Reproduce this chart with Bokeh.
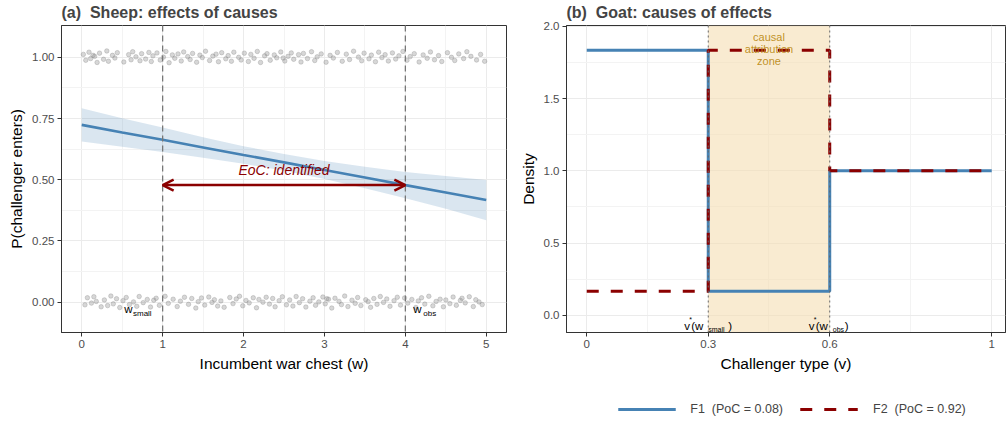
from bokeh.plotting import figure
from bokeh.models import Range1d, FixedTicker, Span, BoxAnnotation, Arrow, OpenHead, Legend, LegendItem, Spacer
from bokeh.layouts import row, column
from bokeh.embed import file_html
from bokeh.resources import INLINE
from bokeh.core.properties import value

FONT = "Liberation Sans"

# ---------------- data: panel (a) ----------------
top_x = [0.02, 0.05, 0.09, 0.11, 0.16, 0.19, 0.22, 0.27, 0.31, 0.33,
         0.38, 0.41, 0.44, 0.52, 0.58, 0.61, 0.63, 0.67, 0.72, 0.74,
         0.79, 0.83, 0.86, 0.88, 0.93, 0.97, 1.01, 1.04, 1.08, 1.12,
         1.15, 1.19, 1.23, 1.26, 1.31, 1.34, 1.37, 1.42, 1.46, 1.49,
         1.53, 1.58, 1.62, 1.66, 1.69, 1.73, 1.78, 1.81, 1.85, 1.88,
         1.94, 1.97, 2.01, 2.06, 2.09, 2.13, 2.17, 2.21, 2.26, 2.29,
         2.33, 2.38, 2.41, 2.46, 2.51, 2.55, 2.59, 2.62, 2.68, 2.71,
         2.74, 2.79, 2.84, 2.88, 2.91, 2.96, 3.02, 3.07, 3.11, 3.16,
         3.22, 3.27, 3.31, 3.36, 3.42, 3.46, 3.49, 3.55, 3.58, 3.63,
         3.67, 3.71, 3.75, 3.79, 3.84, 3.88, 3.92, 3.97, 4.02, 4.06,
         4.11, 4.17, 4.22, 4.27, 4.31, 4.36, 4.41, 4.45, 4.52, 4.57,
         4.61, 4.66, 4.72, 4.76, 4.81, 4.88, 4.93, 4.98, 0.14, 2.49]
top_y = [1.012, 0.988, 1.021, 0.995, 1.004, 0.979, 1.017, 0.992, 1.026, 0.984,
         1.008, 0.997, 1.019, 0.981, 1.011, 0.990, 1.023, 1.002, 0.986, 1.015,
         0.993, 1.020, 0.983, 1.006, 1.018, 0.989, 1.001, 1.024, 0.978, 1.010,
         0.996, 1.014, 0.985, 1.022, 1.003, 0.991, 1.016, 0.980, 1.009, 0.999,
         1.025, 0.987, 1.005, 1.013, 0.982, 1.019, 0.994, 1.007, 0.984, 1.021,
         1.000, 0.989, 1.017, 0.983, 1.012, 0.996, 1.024, 0.979, 1.006, 1.015,
         0.988, 1.010, 0.998, 1.022, 0.985, 1.004, 1.018, 0.992, 1.011, 0.981,
         1.016, 0.995, 1.023, 0.987, 1.002, 1.014, 0.980, 1.008, 0.997, 1.020,
         0.984, 1.013, 0.991, 1.025, 1.001, 0.986, 1.017, 0.994, 1.009, 0.982,
         1.021, 0.999, 1.011, 0.985, 1.018, 0.993, 1.006, 1.024, 0.988, 1.003,
         1.015, 0.981, 1.010, 0.996, 1.022, 0.990, 1.007, 0.983, 1.019, 1.000,
         0.987, 1.014, 0.995, 1.023, 1.004, 0.989, 1.012, 0.984, 1.008, 0.997]
bot_x = [0.04, 0.07, 0.12, 0.15, 0.18, 0.24, 0.28, 0.32, 0.36, 0.39,
         0.43, 0.47, 0.51, 0.55, 0.59, 0.64, 0.68, 0.71, 0.76, 0.81,
         0.85, 0.89, 0.92, 0.96, 1.03, 1.07, 1.13, 1.18, 1.22, 1.27,
         1.32, 1.36, 1.41, 1.44, 1.48, 1.52, 1.57, 1.61, 1.64, 1.68,
         1.72, 1.76, 1.83, 1.87, 1.91, 1.95, 1.99, 2.03, 2.07, 2.12,
         2.16, 2.19, 2.24, 2.28, 2.32, 2.36, 2.39, 2.44, 2.48, 2.53,
         2.57, 2.61, 2.65, 2.69, 2.73, 2.77, 2.82, 2.86, 2.89, 2.93,
         2.98, 3.01, 3.05, 3.09, 3.13, 3.18, 3.21, 3.25, 3.29, 3.34,
         3.38, 3.41, 3.45, 3.51, 3.54, 3.57, 3.61, 3.65, 3.69, 3.73,
         3.77, 3.81, 3.86, 3.90, 3.94, 3.99, 4.03, 4.08, 4.13, 4.16,
         4.20, 4.24, 4.29, 4.34, 4.38, 4.43, 4.47, 4.50, 4.55, 4.59,
         4.63, 4.68, 4.70, 4.74, 4.79, 4.84, 4.87, 4.91, 4.95, 3.03]
bot_y = [-0.011, 0.018, -0.004, 0.022, 0.003, -0.019, 0.009, -0.014, 0.025, -0.007,
         0.014, -0.022, 0.006, 0.019, -0.010, 0.001, -0.017, 0.023, -0.002, 0.011,
         -0.020, 0.008, 0.016, -0.013, 0.024, -0.005, 0.012, -0.018, 0.004, 0.020,
         -0.009, 0.015, -0.024, 0.002, 0.017, -0.012, 0.021, -0.001, 0.010, -0.016,
         0.005, -0.021, 0.019, -0.006, 0.013, 0.024, -0.015, 0.007, -0.003, 0.018,
         -0.023, 0.011, 0.000, 0.020, -0.008, 0.015, -0.019, 0.006, 0.022, -0.011,
         0.009, -0.016, 0.023, -0.002, 0.014, -0.020, 0.004, 0.018, -0.013, 0.001,
         0.021, -0.007, 0.012, -0.024, 0.016, 0.003, -0.010, 0.025, -0.018, 0.008,
         -0.005, 0.019, -0.014, 0.010, 0.002, -0.021, 0.015, -0.009, 0.023, -0.001,
         0.013, -0.017, 0.006, 0.020, -0.012, 0.017, -0.004, 0.011, -0.022, 0.005,
         0.018, -0.008, 0.024, -0.015, 0.003, 0.012, -0.019, 0.009, -0.006, 0.021,
         -0.013, 0.007, 0.016, -0.003, 0.022, -0.018, 0.010, 0.001, -0.010, 0.014]

fit_x = [0.0, 0.5, 1.0, 1.5, 2.0, 2.5, 3.0, 3.5, 4.0, 4.5, 5.0]
fit_y = [0.724, 0.693, 0.663, 0.632, 0.601, 0.571, 0.540, 0.509, 0.478, 0.448, 0.417]
fit_lo = [0.656, 0.635, 0.613, 0.590, 0.565, 0.537, 0.503, 0.465, 0.424, 0.381, 0.335]
fit_hi = [0.792, 0.751, 0.713, 0.674, 0.637, 0.605, 0.577, 0.553, 0.532, 0.515, 0.499]

w_small = 1.0
w_obs = 4.0
eoc_level = 0.478  # predicted P at w_obs

a_xticks = [0, 1, 2, 3, 4, 5]
a_xminor = [0.5, 1.5, 2.5, 3.5, 4.5]
a_yticks = [0.0, 0.25, 0.5, 0.75, 1.0]
a_ylabels = ["0.00", "0.25", "0.50", "0.75", "1.00"]
a_yminor = [0.125, 0.375, 0.625, 0.875]

# ---------------- data: panel (b) ----------------
v_breaks = [0.0, 0.3, 0.6, 1.0]
f1_density = [1.833, 0.1667, 1.0]
f2_density = [0.1667, 1.833, 1.0]
v_small = 0.3
v_obs = 0.6

b_xticks = [0, 0.3, 0.6, 1]
b_xlabels = ["0", "0.3", "0.6", "1"]
b_xminor = [0.15, 0.45, 0.8]
b_yticks = [0.0, 0.5, 1.0, 1.5, 2.0]
b_ylabels = ["0.0", "0.5", "1.0", "1.5", "2.0"]
b_yminor = [0.25, 0.75, 1.25, 1.75]

legend_labels = ["F1\u00a0 (PoC = 0.08)", "F2\u00a0 (PoC = 0.92)"]
titles = ["(a)\u00a0 Sheep: effects of causes", "(b)\u00a0 Goat: causes of effects"]

ROW_H = 396
W1 = 515
W2 = 491


def steps(breaks, dens):
    xs, ys = [], []
    for i, d in enumerate(dens):
        xs += [breaks[i], breaks[i + 1]]
        ys += [d, d]
    return xs, ys


def style(p):
    p.background_fill_color = "white"
    p.border_fill_color = "white"
    p.outline_line_color = "#333333"
    p.outline_line_width = 1
    p.title.text_font = FONT
    p.title.text_font_size = "16px"
    p.title.text_font_style = "bold"
    p.title.align = "left"
    p.title.vertical_align = "top"
    p.title.offset = 0
    p.title.standoff = 6
    for ax in p.axis:
        ax.axis_line_color = "#333333"
        ax.major_tick_line_color = "#333333"
        ax.major_tick_out = 4
        ax.major_tick_in = 0
        ax.minor_tick_line_color = None
        ax.major_label_text_font = FONT
        ax.major_label_text_font_size = "11.5px"
        ax.major_label_text_color = "#4D4D4D"
        ax.major_label_standoff = 3
        ax.axis_label_text_font = FONT
        ax.axis_label_text_font_size = "15.5px"
        ax.axis_label_text_font_style = "normal"
        ax.axis_label_text_color = "black"
        ax.axis_label_standoff = 4
    for g in (p.xgrid, p.ygrid):
        g.grid_line_color = "#EBEBEB"
        g.grid_line_width = 1
        g.minor_grid_line_color = "#F3F3F3"
        g.minor_grid_line_width = 1


# ---------------- panel (a) ----------------
p1 = figure(width=W1, height=ROW_H, x_range=Range1d(-0.25, 5.25), y_range=Range1d(-0.124, 1.13),
            output_backend="svg", toolbar_location=None,
            min_border_left=61, min_border_right=9, min_border_top=0, min_border_bottom=64,
            title=titles[0],
            x_axis_label="Incumbent war chest (w)", y_axis_label="P(challenger enters)")
p1.xaxis.ticker = FixedTicker(ticks=a_xticks, minor_ticks=a_xminor)
p1.yaxis.ticker = FixedTicker(ticks=a_yticks, minor_ticks=a_yminor)
p1.yaxis.major_label_overrides = {t: l for t, l in zip(a_yticks, a_ylabels)}
style(p1)

p1.scatter(top_x, top_y, size=4.5, color="#8C8C8C", alpha=0.35)
p1.scatter(bot_x, bot_y, size=4.5, color="#8C8C8C", alpha=0.35)
p1.varea(x=fit_x, y1=fit_lo, y2=fit_hi, fill_color="#4682B4", fill_alpha=0.2)
p1.line(fit_x, fit_y, line_color="#4682B4", line_width=2.6)
for loc in (w_small, w_obs):
    p1.add_layout(Span(location=loc, dimension="height", line_color="#777777",
                       line_width=1.3, line_dash="6 4"))
p1.add_layout(Arrow(x_start=w_small, y_start=eoc_level, x_end=w_obs, y_end=eoc_level,
                    line_color="#8B0000", line_width=2.5,
                    start=OpenHead(size=11, line_color="#8B0000", line_width=2.5),
                    end=OpenHead(size=11, line_color="#8B0000", line_width=2.5)))
p1.text(x=[(w_small + w_obs) / 2], y=[0.54], text=["EoC: identified"], text_font=value(FONT),
        text_font_size="14px", text_font_style="italic", text_color="#8B0000",
        text_align="center", text_baseline="middle")
# w_small / w_obs labels
p1.text(x=[w_small], y=[-0.03], text=["w"], text_font=value(FONT), text_font_size="11.5px",
        text_align="right", text_baseline="middle", x_offset=-30, text_color="black")
p1.text(x=[w_small], y=[-0.045], text=["small"], text_font=value(FONT), text_font_size="8px",
        text_align="right", text_baseline="middle", x_offset=-11, text_color="black")
p1.text(x=[w_obs], y=[-0.03], text=["w"], text_font=value(FONT), text_font_size="11.5px",
        text_align="left", text_baseline="middle", x_offset=8, text_color="black")
p1.text(x=[w_obs], y=[-0.045], text=["obs"], text_font=value(FONT), text_font_size="8px",
        text_align="left", text_baseline="middle", x_offset=18, text_color="black")

# ---------------- panel (b) ----------------
p2 = figure(width=W2, height=ROW_H, x_range=Range1d(-0.05, 1.034), y_range=Range1d(-0.118, 2.005),
            output_backend="svg", toolbar_location=None,
            min_border_left=51, min_border_right=1, min_border_top=0, min_border_bottom=64,
            title=titles[1],
            x_axis_label="Challenger type (v)", y_axis_label="Density")
p2.xaxis.ticker = FixedTicker(ticks=b_xticks, minor_ticks=b_xminor)
p2.xaxis.major_label_overrides = {t: l for t, l in zip(b_xticks, b_xlabels)}
p2.yaxis.ticker = FixedTicker(ticks=b_yticks, minor_ticks=b_yminor)
p2.yaxis.major_label_overrides = {t: l for t, l in zip(b_yticks, b_ylabels)}
style(p2)

p2.add_layout(BoxAnnotation(left=v_small, right=v_obs, fill_color="#F5DEB3", fill_alpha=0.6,
                            line_color=None, level="underlay"))
for loc in (v_small, v_obs):
    p2.add_layout(Span(location=loc, dimension="height", line_color="#666666",
                       line_width=1, line_dash="2 3"))

x1, y1 = steps(v_breaks, f1_density)
x2, y2 = steps(v_breaks, f2_density)
p2.line(x1, y1, line_color="#4682B4", line_width=3)
p2.line(x2, y2, line_color="#8B0000", line_width=3, line_dash="12 12")

p2.text(x=[(v_small + v_obs) / 2], y=[1.845], text=["causal\nattribution\nzone"],
        text_font=value(FONT), text_font_size="11px", text_color="#B8860B", text_alpha=0.9,
        text_align="center", text_baseline="middle", text_line_height=1.0)


def vlabel(xv, sub, dx, close_dx):
    ybase = -0.07
    p2.text(x=[xv], y=[ybase], text=["v"], text_font=value(FONT), text_font_size="11.5px",
            text_align="left", text_baseline="middle", x_offset=dx, text_color="black")
    p2.text(x=[xv], y=[ybase + 0.04], text=["*"], text_font=value(FONT), text_font_size="7px",
            text_align="left", text_baseline="middle", x_offset=dx + 5, text_color="black")
    p2.text(x=[xv], y=[ybase], text=["(w"], text_font=value(FONT), text_font_size="11.5px",
            text_align="left", text_baseline="middle", x_offset=dx + 7, text_color="black")
    p2.text(x=[xv], y=[ybase - 0.025], text=[sub], text_font=value(FONT), text_font_size="7px",
            text_align="left", text_baseline="middle", x_offset=dx + 24, text_color="black")
    p2.text(x=[xv], y=[ybase], text=[")"], text_font=value(FONT), text_font_size="11.5px",
            text_align="left", text_baseline="middle", x_offset=close_dx, text_color="black")


vlabel(v_small, "small", -24, 20)
vlabel(v_obs, "obs", -21, 15)

# ---------------- legend (separate strip below panel b) ----------------
pl = figure(width=W2, height=422 - ROW_H, output_backend="svg", toolbar_location=None,
            x_range=Range1d(0, 1), y_range=Range1d(0, 1),
            min_border_left=63, min_border_right=1, min_border_top=0, min_border_bottom=0)
pl.axis.visible = False
pl.grid.visible = False
pl.outline_line_color = None
pl.background_fill_color = "white"
pl.border_fill_color = "white"
# off-screen proxy renderers that only feed the legend
lr1 = pl.line([-5, -4], [-5, -5], line_color="#4682B4", line_width=3)
lr2 = pl.line([-5, -4], [-5, -5], line_color="#8B0000", line_width=3, line_dash="12 12")
legend = Legend(items=[LegendItem(label=legend_labels[0], renderers=[lr1]),
                       LegendItem(label=legend_labels[1], renderers=[lr2])],
                orientation="horizontal", location="center", glyph_width=58, glyph_height=16,
                label_standoff=15, spacing=17, label_text_font=FONT, label_text_font_size="12.5px",
                label_height=16, border_line_color=None, background_fill_alpha=0,
                padding=0, margin=0)
pl.add_layout(legend, "center")

layout = column(row(p1, p2), row(Spacer(width=W1, height=422 - ROW_H), pl))
open("out.html", "w").write(file_html(layout, INLINE))
